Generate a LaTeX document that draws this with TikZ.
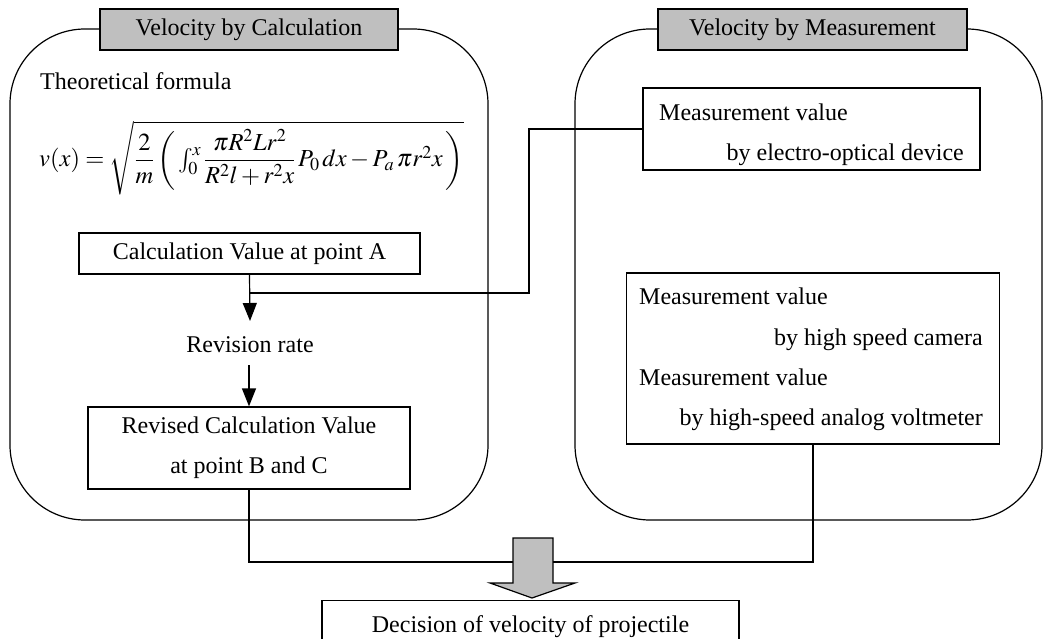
\documentclass[tikz,border=0pt]{standalone}
\usepackage{mathptmx}
\usepackage{amsmath}
\usepackage{fontspec}
\setmainfont{Liberation Serif}
\usetikzlibrary{arrows.meta}
\tikzset{
  conn/.style={line width=1.2pt},
  arr/.style={conn, -{Triangle[width=14pt,length=18pt]}},
  box/.style={draw, line width=1.2pt, fill=white, inner sep=0pt},
  bigbox/.style={draw, line width=1.2pt, rounded corners=75pt, inner sep=0pt},
  titlebox/.style={draw, line width=1.2pt, fill=gray!50, inner sep=0pt},
  txt/.style={inner sep=0pt},
  blockarrow/.style={draw, line width=1.2pt, fill=gray!50},
}
\begin{document}
\begin{tikzpicture}[x=1pt,y=-1pt, font=\fontsize{24}{40}\selectfont]
\useasboundingbox (0,0) rectangle (1050,639);
% big containers
\node[bigbox, minimum width=478pt, minimum height=491pt] (lbig) at (249,274.5) {};
\node[bigbox, minimum width=467pt, minimum height=491pt] (rbig) at (808.5,274.5) {};
\node[titlebox, minimum width=298pt, minimum height=41pt] (ltitle) at (249,29.5) {Velocity by Calculation};
\node[titlebox, minimum width=309pt, minimum height=41pt] (rtitle) at (812.5,29.5) {Velocity by Measurement};
% left content
\node[txt, anchor=base west] (theo) at (40,90) {Theoretical formula};
\node[txt, anchor=base west, font=\fontsize{24.5}{30}\selectfont] (formula) at (39,167)
  {$v(x)=\sqrt{\dfrac{2}{m}\left(\,\textstyle\int_0^x \dfrac{\pi R^2Lr^2}{R^2l+r^2x}\,P_0\,dx-P_a\,\pi r^2x\,\right)}$};
\node[box, minimum width=341pt, minimum height=41pt] (calcA) at (249.5,253.5) {Calculation Value at point A};
\node[txt] (rev) at (250,345) {Revision rate};
\node[box, minimum width=322pt, minimum height=82pt, align=center] (revised) at (249,448) {Revised Calculation Value\\at point B and C};
% right content
\node[box, minimum width=337pt, minimum height=82pt] (electro) at (811.5,129) {};
\node[txt, anchor=base west] (e1) at (659,121) {Measurement value};
\node[txt, anchor=base east] (e2) at (964,161) {by electro-optical device};
\node[box, minimum width=373pt, minimum height=171pt] (hs) at (813,358.5) {};
\node[txt, anchor=base west] (h1) at (639,305) {Measurement value};
\node[txt, anchor=base east] (h2) at (983,345) {by high speed camera};
\node[txt, anchor=base west] (h3) at (639,385) {Measurement value};
\node[txt, anchor=base east] (h4) at (983,425) {by high-speed analog voltmeter};
% decision
\node[box, minimum width=417pt, minimum height=60pt, anchor=north] (dec) at (530.5,600) {};
\node[txt, anchor=base] (dectxt) at (530.5,632) {Decision of velocity of projectile};
% connectors
\coordinate (aend) at (250,321);
\coordinate (j1) at (250,293);
\coordinate (j2) at (529,293);
\coordinate (r1) at (249,365);
\draw[arr] (calcA.south) -- (aend);
\draw[conn] (j1) -- (j2) |- (electro.west);
\draw[arr] (r1) -- (revised.north);
% block arrow
\draw[blockarrow] (513,538) -- (553,538) -- (553,583) -- (575,583) -- (532,598) -- (490,583) -- (513,583) -- cycle;
\coordinate (bl) at (513,562);
\coordinate (br) at (553,562);
\draw[conn] (revised.south) |- (bl);
\draw[conn] (hs.south) |- (br);
\end{tikzpicture}
\end{document}
